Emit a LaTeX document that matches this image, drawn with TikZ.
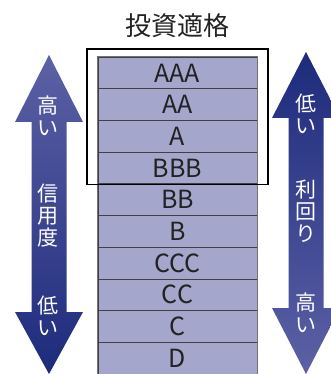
\documentclass[tikz,border=0pt]{standalone}
\usepackage{fontspec}
\setmainfont{Noto Sans CJK JP}
\newfontfamily\jp{Noto Sans CJK JP}
\definecolor{rowfill}{HTML}{A4A6CC}
\definecolor{arrowlight}{HTML}{5D61A5}
\definecolor{arrowdark}{HTML}{1D2B7C}
\definecolor{txt}{HTML}{222222}
\begin{document}
\begin{tikzpicture}[x=1pt,y=-1pt,
  rowbox/.style={draw=black!75, line width=0.8pt, fill=rowfill, minimum width=159pt, minimum height=31.7pt, inner sep=0pt, text=txt, font=\jp\fontsize{25}{25}\selectfont},
  arrowtext/.style={text=white, align=center, inner sep=0pt, font=\jp\fontsize{21}{22}\selectfont},
  titletext/.style={text=txt, inner sep=0pt, font=\jp\fontsize{26}{26}\selectfont}]
\useasboundingbox (0,0) rectangle (331,374);
% left arrow
\path[top color=arrowlight, bottom color=arrowdark]
  (49,55) -- (83,122) -- (66.5,122) -- (66.5,312) -- (83,312) -- (49,374)
  -- (15,312) -- (31.5,312) -- (31.5,122) -- (15,122) -- cycle;
% right arrow
\path[top color=arrowdark, bottom color=arrowlight]
  (306,52) -- (340,118) -- (323.5,118) -- (323.5,308) -- (340,308) -- (306,374)
  -- (272,308) -- (288.5,308) -- (288.5,118) -- (272,118) -- cycle;
% table
\foreach \t [count=\i from 0] in {AAA,AA,A,BBB,BB,B,CCC,CC,C,D} {
  \node[rowbox] (r\i) at (177.5,{57+31.7*(\i+0.5)}) {\t};
}
\draw[black!55, line width=1pt] (r0.north west) rectangle (r9.south east);
% investment-grade box
\draw[black, line width=1.8pt] (87,49) rectangle (268,184.5);
\node[titletext] (title) at (177.5,26) {投資適格};
% arrow labels
\node[arrowtext] (lhigh) at (48,116) {高\\い};
\node[arrowtext] (lcred) at (48,216) {信\\用\\度};
\node[arrowtext] (llow) at (48,316) {低\\い};
\node[arrowtext] (rlow) at (306,114) {低\\い};
\node[arrowtext] (ryield) at (306,211) {利\\回\\り};
\node[arrowtext] (rhigh) at (306,313) {高\\い};
\end{tikzpicture}
\end{document}
